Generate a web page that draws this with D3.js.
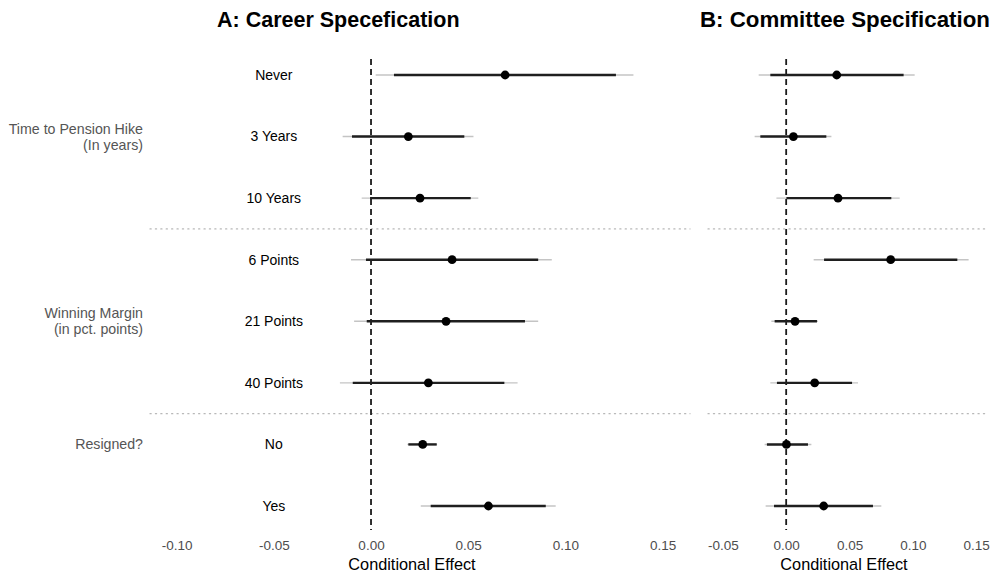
<!DOCTYPE html>
<html>
<head>
<meta charset="utf-8">
<script src="https://cdn.jsdelivr.net/npm/d3@7"></script>
<style>
  html, body { margin: 0; padding: 0; background: #fff; }
  svg { display: block; font-family: "Liberation Sans", Arial, sans-serif; }
</style>
</head>
<body>
<svg id="chart" width="998" height="573"></svg>
<script>
// ---------------- data ----------------
const categories = ["Never", "3 Years", "10 Years", "6 Points", "21 Points", "40 Points", "No", "Yes"];

const groupLabels = ["Time to Pension Hike\n(In years)", "Winning Margin\n(in pct. points)", "Resigned?"];
const groupAnchors = ["3 Years", "21 Points", "No"];
const separatorsAfter = ["10 Years", "40 Points"];

// Panel A: Career Specification
const estA   = [0.069, 0.0192, 0.0252, 0.0417, 0.0386, 0.0295, 0.0266, 0.0604];
const lo90A  = [0.0118, -0.0098, -0.0005, -0.0026, -0.0022, -0.0094, 0.0192, 0.0307];
const hi90A  = [0.126, 0.048, 0.0513, 0.086, 0.0792, 0.0686, 0.0338, 0.0899];
const lo95A  = [0.0024, -0.0146, -0.0048, -0.0103, -0.0087, -0.016, 0.0187, 0.0256];
const hi95A  = [0.135, 0.0527, 0.0552, 0.093, 0.086, 0.0754, 0.034, 0.095];

// Panel B: Committee Specification
const estB   = [0.0399, 0.0057, 0.0409, 0.0825, 0.007, 0.0225, 0.0002, 0.0296];
const lo90B  = [-0.0125, -0.0204, 0.0002, 0.0299, -0.0091, -0.0073, -0.0152, -0.0096];
const hi90B  = [0.0927, 0.0317, 0.083, 0.1351, 0.0243, 0.052, 0.0172, 0.0685];
const lo95B  = [-0.0217, -0.0249, -0.0077, 0.0217, -0.0117, -0.0125, -0.017, -0.0162];
const hi95B  = [0.1014, 0.0357, 0.0896, 0.144, 0.0251, 0.0567, 0.0199, 0.0751];

const ticksA = [-0.10, -0.05, 0.00, 0.05, 0.10, 0.15];
const ticksB = [-0.05, 0.00, 0.05, 0.10, 0.15];

const titleA = "A: Career Specefication";
const titleB = "B: Committee Specification";
const xTitle = "Conditional Effect";
const labelX = -0.05; // row labels are placed at this x value in panel A

// ---------------- layout ----------------
const svg = d3.select("#chart");
const plotTop = 59, plotBottom = 530;

const y = d3.scalePoint().domain(categories).range([75, 506]);
const step = y.step();
const fmt = d => d.toFixed(2);

const panels = [
  { title: titleA, est: estA, lo90: lo90A, hi90: hi90A, lo95: lo95A, hi95: hi95A, ticks: ticksA,
    x: d3.scaleLinear().domain([-0.1137, 0.1641]).range([150, 690]), titleX: 217, titleSize: 21.5, labels: true },
  { title: titleB, est: estB, lo90: lo90B, hi90: hi90B, lo95: lo95B, hi95: hi95B, ticks: ticksB,
    x: d3.scaleLinear().domain([-0.0617, 0.1593]).range([708, 988]), titleX: 700, titleSize: 22.3, labels: false }
];

panels.forEach(p => {
  const g = svg.append("g");
  const x = p.x;
  const [x0, x1] = x.range();

  // separators
  separatorsAfter.forEach(c => {
    const yy = y(c) + step / 2;
    g.append("line")
      .attr("x1", x0).attr("x2", x1).attr("y1", yy).attr("y2", yy)
      .attr("stroke", "#b8b8b8").attr("stroke-width", 1.2)
      .attr("stroke-dasharray", "1.2,4.2").attr("stroke-linecap", "round");
  });

  // zero line
  g.append("line")
    .attr("x1", x(0)).attr("x2", x(0)).attr("y1", plotTop).attr("y2", plotBottom)
    .attr("stroke", "#1a1a1a").attr("stroke-width", 1.8)
    .attr("stroke-dasharray", "6,4");

  const rows = categories.map((c, i) => ({ c, est: p.est[i], lo90: p.lo90[i], hi90: p.hi90[i], lo95: p.lo95[i], hi95: p.hi95[i] }));

  // 95% intervals (thin, light)
  g.selectAll(".ci95").data(rows).join("line")
    .attr("x1", d => x(d.lo95)).attr("x2", d => x(d.hi95))
    .attr("y1", d => y(d.c)).attr("y2", d => y(d.c))
    .attr("stroke", "#c4c4c4").attr("stroke-width", 1.4);

  // 90% intervals (thick, dark)
  g.selectAll(".ci90").data(rows).join("line")
    .attr("x1", d => x(d.lo90)).attr("x2", d => x(d.hi90))
    .attr("y1", d => y(d.c)).attr("y2", d => y(d.c))
    .attr("stroke", "#1f1f1f").attr("stroke-width", 2.4);

  // points
  g.selectAll(".pt").data(rows).join("circle")
    .attr("cx", d => x(d.est)).attr("cy", d => y(d.c)).attr("r", 4.4)
    .attr("fill", "#000");

  // row labels
  if (p.labels) {
    g.selectAll(".rl").data(categories).join("text")
      .attr("x", x(labelX)).attr("y", d => y(d)).attr("dy", "0.35em")
      .attr("text-anchor", "middle").attr("font-size", 14).attr("fill", "#000")
      .text(d => d);
  }

  // x axis (tick labels only)
  const axis = d3.axisBottom(x).tickValues(p.ticks).tickFormat(fmt).tickSize(0).tickPadding(0);
  const ag = g.append("g").attr("transform", `translate(0,${plotBottom + 9})`).call(axis);
  ag.select(".domain").remove();
  ag.selectAll("text").attr("font-size", 13.5).attr("fill", "#4d4d4d")
    .attr("font-family", "Liberation Sans, Arial, sans-serif")
    .attr("dy", "0.71em").attr("y", 1);

  // axis title
  g.append("text")
    .attr("x", (x0 + x1) / 2 - (p.labels ? 8 : 4)).attr("y", 570)
    .attr("text-anchor", "middle").attr("font-size", 16.3).attr("fill", "#000")
    .text(xTitle);

  // panel title
  g.append("text")
    .attr("x", p.titleX).attr("y", 27)
    .attr("font-size", p.titleSize).attr("font-weight", "bold").attr("fill", "#000")
    .text(p.title);
});

// group labels
groupLabels.forEach((lab, i) => {
  const lines = lab.split("\n");
  const cy = y(groupAnchors[i]);
  const lh = 16;
  const t = svg.append("text")
    .attr("text-anchor", "end").attr("font-size", 14.2).attr("fill", "#555");
  lines.forEach((ln, j) => {
    t.append("tspan")
      .attr("x", 143)
      .attr("y", cy + (j - (lines.length - 1) / 2) * lh)
      .attr("dy", "0.35em")
      .text(ln);
  });
});
</script>
</body>
</html>
